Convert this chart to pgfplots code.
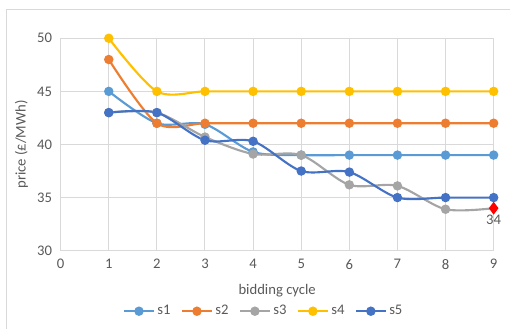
\documentclass[border=0pt]{standalone}
\usepackage{pgfplots}
\pgfplotsset{compat=1.18}
\usepackage{fontspec}
\setmainfont{Carlito}
\definecolor{cA}{HTML}{5B9BD5}
\definecolor{cB}{HTML}{ED7D31}
\definecolor{cC}{HTML}{A5A5A5}
\definecolor{cD}{HTML}{FFC000}
\definecolor{cE}{HTML}{4472C4}
\definecolor{gridc}{HTML}{D9D9D9}
\definecolor{txt}{HTML}{595959}
\begin{document}
\begin{tikzpicture}
\path[use as bounding box] (-45.5pt,-58.7pt) rectangle (337pt,188pt);
\draw[gridc, line width=0.75pt] (-40.5pt,-60pt) -- (-40.5pt,181pt) -- (340pt,181pt);
\begin{axis}[
  scale only axis, width=324.75pt, height=159.3pt,
  xmin=0, xmax=9, ymin=30, ymax=50,
  xtick={0,...,9}, ytick={30,35,...,50},
  grid=major, major grid style={gridc, line width=0.75pt},
  axis line style={gridc, line width=0.75pt},
  tick style={draw=none},
  font=\fontsize{11pt}{13pt}\selectfont,
  tick label style={txt},
  /pgf/number format/assume math mode=true,
  xticklabel style={yshift=-3pt},
  yticklabel style={xshift=-3pt},
  xlabel={bidding cycle}, ylabel={price (£/MWh)},
  label style={txt},
  xlabel style={yshift=-4pt},
  ylabel style={yshift=0pt},
  legend columns=5,
  legend style={at={(0.47,-0.285)}, anchor=center, draw=none, fill=none,
    font=\fontsize{11pt}{13pt}\selectfont\color{txt},
    /tikz/every even column/.append style={column sep=6pt}},
  legend image code/.code={
    \draw[#1, mark=none] (0pt,0pt) -- (22pt,0pt);
    \draw[#1, only marks] plot coordinates {(11pt,0pt)};
  },
  every axis plot/.append style={line width=1.6pt, smooth, tension=0.5,
    mark=*, mark size=2.7pt},
]
\addplot[cA, mark options={fill=cA, draw=cA}] coordinates {(1,45)(2,42)(3,41.9)(4,39.3)(5,39)(6,39)(7,39)(8,39)(9,39)};
\addlegendentry{s1}
\addplot[cB, mark options={fill=cB, draw=cB}] coordinates {(1,48)(2,42)(3,42)(4,42)(5,42)(6,42)(7,42)(8,42)(9,42)};
\addlegendentry{s2}
\addplot[cC, mark options={fill=cC, draw=cC}, mark indices={1,...,8}] coordinates {(1,43)(2,43)(3,40.7)(4,39.1)(5,39)(6,36.2)(7,36.1)(8,33.9)(9,34)};
\addlegendentry{s3}
\addplot[cD, mark options={fill=cD, draw=cD}] coordinates {(1,50)(2,45)(3,45)(4,45)(5,45)(6,45)(7,45)(8,45)(9,45)};
\addlegendentry{s4}
\addplot[cE, mark options={fill=cE, draw=cE}] coordinates {(1,43)(2,43)(3,40.4)(4,40.3)(5,37.5)(6,37.4)(7,35)(8,35)(9,35)};
\addlegendentry{s5}
\addplot[forget plot, only marks, mark=diamond*, mark size=3.5pt, red, fill=red,
  nodes near coords, point meta=explicit symbolic,
  nodes near coords style={anchor=north, txt, yshift=-1pt, font=\fontsize{11pt}{13pt}\selectfont}]
  coordinates {(9,34) [34]};
\end{axis}
\end{tikzpicture}
\end{document}
